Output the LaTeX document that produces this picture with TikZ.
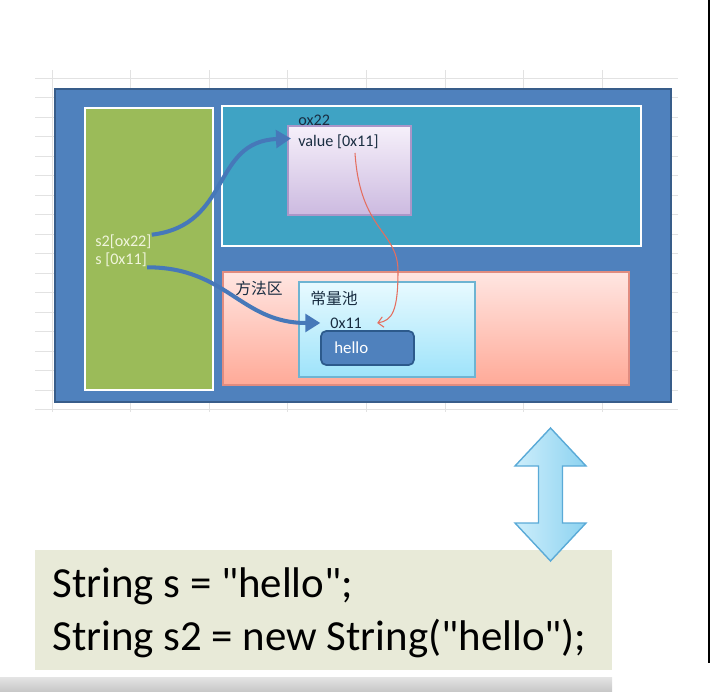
\documentclass[tikz,border=0pt]{standalone}
\usepackage{fontspec}
\setmainfont{Carlito}
\newfontfamily\codefont{Carlito}[Ligatures=TeXOff]
\newfontfamily\cjk{Noto Sans CJK SC}
\usepackage{xcolor}
\usetikzlibrary{arrows.meta,positioning,calc}
\definecolor{outerblue}{RGB}{79,129,189}
\definecolor{outerline}{RGB}{56,93,138}
\definecolor{stackgreen}{RGB}{155,187,89}
\definecolor{heapteal}{RGB}{63,163,196}
\definecolor{methodtop}{RGB}{255,230,226}
\definecolor{methodbottom}{RGB}{255,170,152}
\definecolor{methodline}{RGB}{225,140,128}
\definecolor{pooltop}{RGB}{232,250,255}
\definecolor{poolbottom}{RGB}{158,227,250}
\definecolor{poolline}{RGB}{110,180,210}
\definecolor{objtop}{RGB}{246,240,250}
\definecolor{objbottom}{RGB}{204,186,224}
\definecolor{objline}{RGB}{170,150,200}
\definecolor{helloline}{RGB}{44,90,140}
\definecolor{labeldark}{RGB}{25,45,65}
\definecolor{stacktext}{RGB}{240,245,220}
\definecolor{refblue}{RGB}{70,120,185}
\definecolor{ptrred}{RGB}{228,110,95}
\definecolor{codebg}{RGB}{232,234,216}
\definecolor{arrowlight}{RGB}{205,238,251}
\definecolor{arrowmid}{RGB}{140,210,240}
\definecolor{arrowline}{RGB}{90,170,215}
\definecolor{gridgray}{RGB}{226,226,226}
\definecolor{barlight}{RGB}{228,228,228}
\definecolor{bardark}{RGB}{200,200,200}

\begin{document}
\begin{tikzpicture}[
            area/.style={rectangle, draw=white, line width=1.6pt, inner sep=0pt},
            inbox/.style={rectangle, line width=0.6pt, inner sep=0pt},
            lbl/.style={anchor=west, inner sep=0pt, font=\fontsize{9.2}{11}\selectfont, labeldark},
            cjklbl/.style={anchor=west, inner sep=0pt, font=\cjk\fontsize{9}{11}\selectfont, labeldark},
            ref/.style={-{Triangle[length=8.5pt,width=10pt]}, line width=2.3pt, refblue},
            ptr/.style={-{Straight Barb[length=3pt,width=6pt]}, line width=0.6pt, ptrred},
            code/.style={anchor=base west, inner sep=0pt, font=\codefont\fontsize{24.4}{30}\selectfont}
        ]
        \useasboundingbox (0,0) rectangle (14.2,13.82);
        
        % Grid
        \foreach \x in {1.04,2.612,...,12.1}
            \draw[gridgray, line width=0.4pt] (\x,5.58) -- (\x,12.42);
        \foreach \y in {12.26,11.87,...,5.6}
            \draw[gridgray, line width=0.4pt] (0.70,\y) -- (13.56,\y);
        
        % Memory
        \node[rectangle, fill=outerblue, draw=outerline, line width=1pt, minimum width=12.32cm, minimum height=6.26cm, inner sep=0pt] (jvm) at (7.26,8.91) {};
        
        % Stack
        \node[area, fill=stackgreen, minimum width=2.56cm, minimum height=5.64cm] (stack) at (2.98,8.84) {};
        \node[lbl, text=stacktext] (s2) at (1.90,8.98) {s2[ox22]};
        \node[lbl, text=stacktext] (s) at (1.90,8.62) {s [0x11]};
        
        % Heap
        \node[area, fill=heapteal, minimum width=8.38cm, minimum height=2.80cm] (heap) at (8.63,10.30) {};
        \node[inbox, draw=objline, top color=objtop, bottom color=objbottom, minimum width=2.46cm, minimum height=1.78cm] (obj) at (6.99,10.41) {};
        \node[lbl] (oid) at (5.96,11.42) {ox22};
        \node[lbl] (value) at (5.96,10.98) {value [0x11]};
        
        % Method area
        \node[inbox, draw=methodline, top color=methodtop, bottom color=methodbottom, minimum width=8.12cm, minimum height=2.26cm] (method) at (8.52,7.25) {};
        \node[cjklbl] (methodlbl) at (4.70,8.06) {方法区};
        \node[inbox, draw=poolline, top color=pooltop, bottom color=poolbottom, minimum width=3.52cm, minimum height=1.90cm] (pool) at (7.74,7.23) {};
        \node[cjklbl] (poollbl) at (6.20,7.86) {常量池};
        \node[lbl] (addr) at (6.60,7.36) {0x11};
        \node[inbox, rounded corners=3pt, fill=outerblue, draw=helloline, line width=1pt, minimum width=1.86cm, minimum height=0.68cm] (hellobox) at (7.35,6.86) {};
        \node[lbl, text=white, font=\fontsize{9.6}{11}\selectfont] (hellotxt) at (6.68,6.86) {hello};
        
        % References
        \coordinate (ptrstart) at (7.10,10.76);
        \draw[ref] (s2.north east) .. controls +(1.6,0.19) and +(-1.6,-0.06) .. ([shift={(-4pt,2pt)}]value.west);
        \draw[ref] (s.south east) .. controls +(1.6,0) and +(-1.6,0) .. ([xshift=-5.5pt]addr.west);
        \draw[ptr] (ptrstart) .. controls (7.2,9.2) and (7.96,9.2) .. (7.96,8.4) .. controls (7.96,7.6) and +(0.3,0.05) .. ([xshift=8.5pt]addr.east);
        
        % Code
        \node[rectangle, fill=codebg, minimum width=11.54cm, minimum height=2.40cm, inner sep=0pt] (codebox) at (6.47,1.62) {};
        \node[code] (line1) at (1.04,1.88) {String s = "hello";};
        \node[code] (line2) at (1.04,0.82) {String s2 = new String("hello");};
        \draw[arrowline, line width=0.8pt, left color=arrowlight, right color=arrowmid] (11.01,5.26) -- (11.72,4.50) -- (11.25,4.50) -- (11.25,3.36) -- (11.72,3.36) -- (11.01,2.60) -- (10.30,3.36) -- (10.77,3.36) -- (10.77,4.50) -- (10.30,4.50) -- cycle;
        
        % Edges
        \fill[top color=barlight, bottom color=bardark] (0,0) rectangle (12.24,0.28);
        \fill[black] (14.16,0.56) rectangle (14.20,13.82);
        
        \end{tikzpicture}
\end{document}
